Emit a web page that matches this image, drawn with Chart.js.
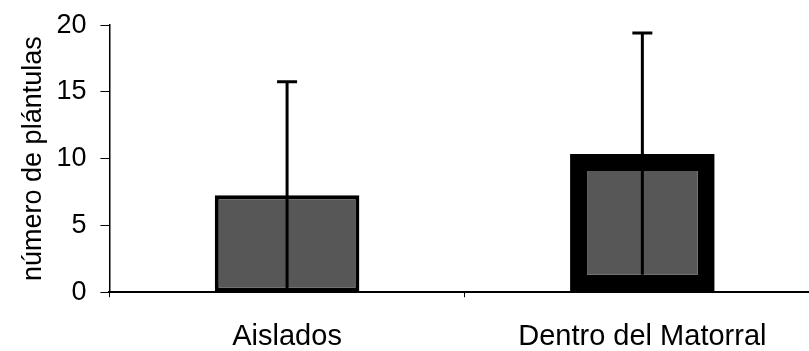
<!DOCTYPE html>
<html>
<head>
<meta charset="utf-8">
<script src="https://cdn.jsdelivr.net/npm/chart.js@4.4.1/dist/chart.umd.min.js"></script>
<style>
  html, body { margin: 0; padding: 0; background: #fff; overflow: hidden; }
  #wrap { width: 821px; height: 351px; }
</style>
</head>
<body>
<div id="wrap"><canvas id="chartCanvas" width="821" height="351"></canvas></div>
<script>
// datos
const categorias = ['Aislados', 'Dentro del Matorral'];
const plantulas = [7.25, 10.35];
const desvio = [8.5, 9.05];   // barra de error (hacia arriba, recortada en 0 abajo)
const yTicks = [0, 5, 10, 15, 20];

// barras de error dibujadas con las escalas de Chart.js
const errorBars = {
    id: 'errorBars',
    afterDatasetsDraw(chart) {
        const ctx = chart.ctx;
        const y = chart.scales.y;
        const meta = chart.getDatasetMeta(0);
        ctx.save();
        ctx.strokeStyle = '#000';
        ctx.lineWidth = 3;
        meta.data.forEach((bar, i) => {
            const top = y.getPixelForValue(plantulas[i] + desvio[i]);
            const bot = y.getPixelForValue(Math.max(0, plantulas[i] - desvio[i]));
            ctx.beginPath();
            ctx.moveTo(bar.x, bot);
            ctx.lineTo(bar.x, top);
            ctx.moveTo(bar.x - 10, top);
            ctx.lineTo(bar.x + 10, top);
            ctx.stroke();
        });
        ctx.restore();
    }
};

const ctx = document.getElementById('chartCanvas').getContext('2d');
new Chart(ctx, {
    type: 'bar',
    data: {
        labels: categorias,
        datasets: [{
            data: plantulas,
            backgroundColor: '#575757',
            borderColor: '#000',
            borderWidth: [4, 17],
            borderSkipped: false,
            barPercentage: 0.407,
            categoryPercentage: 1.0
        }]
    },
    options: {
        responsive: false,
        animation: false,
        layout: { padding: { top: 13, right: 1, left: 17, bottom: -25 } },
        plugins: { legend: { display: false }, tooltip: { enabled: false } },
        scales: {
            x: {
                grid: { offset: true, drawOnChartArea: false, drawTicks: true, tickLength: 5, color: '#000' },
                border: { display: true, color: '#000', width: 2 },
                ticks: { color: '#000', padding: 22, font: { family: 'Arial, "Liberation Sans"', size: 29 } }
            },
            y: {
                min: 0,
                max: 20,
                afterBuildTicks: (axis) => { axis.ticks = yTicks.map(v => ({ value: v })); },
                grid: { drawOnChartArea: false, drawTicks: true, tickLength: 9, color: '#000' },
                border: { display: true, color: '#000', width: 1.5 },
                ticks: { color: '#000', padding: 14, font: { family: 'Arial, "Liberation Sans"', size: 27, lineHeight: 0.82 } },
                title: {
                    display: true,
                    text: 'número de plántulas',
                    color: '#000',
                    padding: { top: 0, bottom: -7 },
                    font: { family: 'Arial, "Liberation Sans"', size: 27 }
                }
            }
        }
    },
    plugins: [errorBars]
});
</script>
</body>
</html>
